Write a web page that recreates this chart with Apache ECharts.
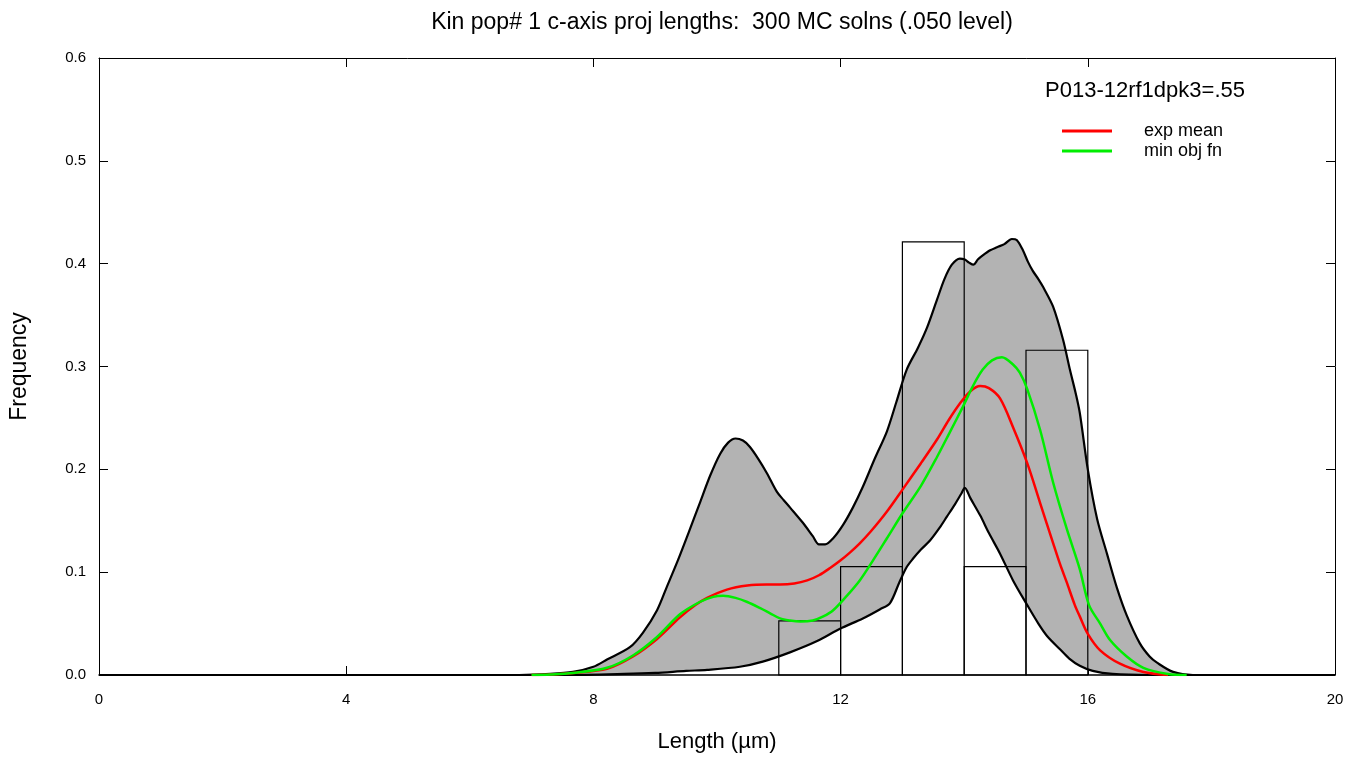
<!DOCTYPE html>
<html>
<head>
<meta charset="utf-8">
<title>Kin pop# 1 c-axis proj lengths</title>
<script src="https://cdn.jsdelivr.net/npm/echarts@6.0.0/dist/echarts.min.js"></script>
<style>
  html, body { margin: 0; padding: 0; background: #fff; }
  #chart { width: 1364px; height: 761px; }
</style>
</head>
<body>
<div id="chart"></div>
<script>
  // histogram of measured lengths (bin edges in um, frequency)
  var binStart = [11, 12, 13, 14, 15];
  var binEnd = [12, 13, 14, 15, 16];
  var binFreq = [0.0526, 0.1053, 0.4211, 0.1053, 0.3158];

  // envelope of the 300 MC solutions
  var upperEnv = [
    [0, 0], [6.8, 0], [7.3, 0.001], [7.67, 0.003], [8.0, 0.008], [8.22, 0.015], [8.59, 0.027],
    [8.8, 0.041], [9.03, 0.063], [9.19, 0.086], [9.37, 0.112], [9.55, 0.14], [9.72, 0.167],
    [9.89, 0.194], [10.05, 0.215], [10.18, 0.226], [10.3, 0.23], [10.42, 0.228], [10.53, 0.222],
    [10.67, 0.21], [10.81, 0.196], [10.97, 0.178], [11.08, 0.17], [11.18, 0.163], [11.39, 0.148],
    [11.55, 0.135], [11.65, 0.127], [11.75, 0.127], [11.88, 0.133], [12.04, 0.146], [12.2, 0.163],
    [12.36, 0.183], [12.55, 0.21], [12.75, 0.237], [12.9, 0.265], [13.07, 0.297], [13.25, 0.318],
    [13.4, 0.338], [13.56, 0.365], [13.68, 0.385], [13.8, 0.399], [13.93, 0.405], [14.01, 0.404],
    [14.08, 0.401], [14.15, 0.399], [14.22, 0.404], [14.3, 0.408], [14.42, 0.413], [14.53, 0.416],
    [14.65, 0.419], [14.77, 0.424], [14.85, 0.423], [14.95, 0.413], [15.03, 0.402], [15.11, 0.393],
    [15.2, 0.385], [15.28, 0.377], [15.44, 0.358], [15.6, 0.326], [15.71, 0.297], [15.8, 0.275],
    [15.87, 0.255], [16.0, 0.2], [16.15, 0.152], [16.31, 0.118], [16.47, 0.085], [16.63, 0.058],
    [16.84, 0.031], [17.0, 0.018], [17.12, 0.012], [17.38, 0.003], [17.7, 0], [20, 0]
  ];
  var lowerEnv = [
    [0, 0], [7.5, 0], [8.5, 0.001], [9.0, 0.002], [9.5, 0.004], [9.84, 0.005], [10.37, 0.008],
    [10.74, 0.013], [11.18, 0.022], [11.62, 0.033], [11.99, 0.045], [12.36, 0.055], [12.64, 0.064],
    [12.8, 0.07], [12.95, 0.09], [13.07, 0.105], [13.17, 0.113], [13.3, 0.122], [13.45, 0.131],
    [13.6, 0.143], [13.72, 0.154], [13.85, 0.166], [13.95, 0.176], [14.01, 0.182], [14.1, 0.172],
    [14.26, 0.155], [14.4, 0.138], [14.58, 0.118], [14.79, 0.092], [15.02, 0.068], [15.2, 0.05],
    [15.34, 0.038], [15.55, 0.025], [15.7, 0.016], [15.87, 0.009], [16.08, 0.004], [16.4, 0.001],
    [17, 0], [20, 0]
  ];

  // exp mean solution
  var expMean = [
    [7.0, 0], [7.3, 0.0005], [7.67, 0.002], [8.22, 0.006], [8.64, 0.018], [9.03, 0.035], [9.4, 0.056],
    [9.65, 0.068], [9.84, 0.075], [10.16, 0.083], [10.49, 0.087], [10.8, 0.088], [11.02, 0.088],
    [11.25, 0.089], [11.46, 0.092], [11.65, 0.097], [11.83, 0.104], [11.99, 0.111], [12.15, 0.119],
    [12.31, 0.128], [12.48, 0.139], [12.75, 0.159], [13.01, 0.181], [13.3, 0.206], [13.56, 0.229],
    [13.75, 0.248], [13.93, 0.264], [14.1, 0.276], [14.26, 0.281], [14.4, 0.279], [14.58, 0.269],
    [14.79, 0.241], [15.02, 0.206], [15.23, 0.167], [15.44, 0.128], [15.55, 0.108], [15.66, 0.09],
    [15.79, 0.068], [15.87, 0.057], [16.0, 0.04], [16.2, 0.024], [16.52, 0.011], [16.9, 0.003],
    [17.3, 0]
  ];
  // min obj fn solution
  var minObj = [
    [7.0, 0], [7.3, 0.0005], [7.67, 0.002], [8.22, 0.007], [8.64, 0.019], [9.03, 0.037], [9.4, 0.059],
    [9.72, 0.071], [9.94, 0.076], [10.1, 0.077], [10.3, 0.075], [10.49, 0.071], [10.7, 0.065],
    [10.86, 0.06], [11.02, 0.055], [11.18, 0.053], [11.35, 0.052], [11.55, 0.053], [11.72, 0.057],
    [11.88, 0.063], [12.1, 0.077], [12.31, 0.092], [12.53, 0.112], [12.75, 0.133], [13.01, 0.158],
    [13.3, 0.184], [13.56, 0.212], [13.75, 0.234], [13.98, 0.261], [14.15, 0.282], [14.3, 0.297],
    [14.45, 0.306], [14.61, 0.309], [14.79, 0.302], [14.9, 0.294], [15.02, 0.278], [15.23, 0.238],
    [15.44, 0.187], [15.66, 0.142], [15.87, 0.103], [16.02, 0.068], [16.2, 0.05], [16.36, 0.034],
    [16.63, 0.018], [16.9, 0.007], [17.3, 0.001], [17.6, 0]
  ];

  var FONT = 'Liberation Sans, Arial, sans-serif';

  var myChart = echarts.init(document.getElementById('chart'));

  var option = {
    animation: false,
    textStyle: { fontFamily: FONT, color: '#000' },
    title: [
      {
        text: 'Kin pop# 1 c-axis proj lengths:  300 MC solns (.050 level)',
        left: 717,
        top: 6,
        textAlign: 'center',
        textStyle: { fontFamily: FONT, fontSize: 23, fontWeight: 'normal', color: '#000' }
      },
      {
        text: 'P013-12rf1dpk3=.55',
        left: 1040,
        top: 75,
        textStyle: { fontFamily: FONT, fontSize: 22, fontWeight: 'normal', color: '#000' }
      }
    ],
    legend: {
      orient: 'vertical',
      left: 1062,
      top: 122,
      padding: 0,
      itemWidth: 50,
      itemHeight: 3,
      itemGap: 2,
      data: [
        { name: 'exp mean', icon: 'rect' },
        { name: 'min obj fn', icon: 'rect' }
      ],
      textStyle: { fontFamily: FONT, fontSize: 18, color: '#000', padding: [0, 0, 0, 27] }
    },
    grid: { left: 99, right: 29, top: 58, bottom: 86 },
    xAxis: [
      {
        type: 'value', min: 0, max: 20, interval: 4,
        name: 'Length (µm)', nameLocation: 'middle', nameGap: 56,
        nameTextStyle: { fontFamily: FONT, fontSize: 22, color: '#000' },
        axisLine: { show: true, lineStyle: { color: '#000', width: 1.5 } },
        axisTick: { show: true, inside: true, length: 9, lineStyle: { color: '#000' } },
        axisLabel: { margin: 17, fontSize: 15, color: '#000' },
        splitLine: { show: false }
      },
      {
        type: 'value', min: 0, max: 20, interval: 4, position: 'top',
        axisLine: { show: true, onZero: false, lineStyle: { color: '#000', width: 1 } },
        axisTick: { show: true, inside: true, length: 9, lineStyle: { color: '#000' } },
        axisLabel: { show: false },
        splitLine: { show: false }
      }
    ],
    yAxis: [
      {
        type: 'value', min: 0, max: 0.6, interval: 0.1,
        name: 'Frequency', nameLocation: 'middle', nameGap: 68, nameRotate: 90,
        nameTextStyle: { fontFamily: FONT, fontSize: 23, color: '#000' },
        axisLine: { show: true, lineStyle: { color: '#000', width: 1 } },
        axisTick: { show: true, inside: true, length: 9, lineStyle: { color: '#000' } },
        axisLabel: {
          margin: 13, fontSize: 15, color: '#000',
          formatter: function (v) { return v.toFixed(1); }
        },
        splitLine: { show: false }
      },
      {
        type: 'value', min: 0, max: 0.6, interval: 0.1, position: 'right',
        axisLine: { show: true, onZero: false, lineStyle: { color: '#000', width: 1 } },
        axisTick: { show: true, inside: true, length: 9, lineStyle: { color: '#000' } },
        axisLabel: { show: false },
        splitLine: { show: false }
      }
    ],
    series: [
      {
        // grey band filled by the MC solutions
        name: 'MC solns',
        type: 'custom',
        z: 1,
        silent: true,
        data: [[0, 0]],
        renderItem: function (params, api) {
          var pts = [];
          upperEnv.forEach(function (p) { pts.push(api.coord(p)); });
          lowerEnv.slice().reverse().forEach(function (p) { pts.push(api.coord(p)); });
          return {
            type: 'polygon',
            shape: { points: pts, smooth: 0.15 },
            style: { fill: '#b3b3b3', stroke: null }
          };
        }
      },
      {
        // histogram bars, outline only
        name: 'measured',
        type: 'custom',
        z: 3,
        silent: true,
        encode: { x: [0, 1], y: 2 },
        data: binStart.map(function (s, i) { return [s, binEnd[i], binFreq[i]]; }),
        renderItem: function (params, api) {
          var p0 = api.coord([api.value(0), 0]);
          var p1 = api.coord([api.value(1), api.value(2)]);
          return {
            type: 'rect',
            shape: { x: p0[0], y: p1[1], width: p1[0] - p0[0], height: p0[1] - p1[1] },
            style: { fill: 'none', stroke: '#000', lineWidth: 1.2 }
          };
        }
      },
      {
        name: 'exp mean', type: 'line', data: expMean, smooth: 0.3, symbol: 'none', z: 5,
        color: '#ff0000',
        lineStyle: { color: '#ff0000', width: 2.5 }
      },
      {
        name: 'min obj fn', type: 'line', data: minObj, smooth: 0.3, symbol: 'none', z: 6,
        color: '#00ee00',
        lineStyle: { color: '#00ee00', width: 2.5 }
      },
      {
        name: 'upper', type: 'line', data: upperEnv, smooth: 0.3, symbol: 'none', z: 4,
        lineStyle: { color: '#000', width: 2.2 }
      },
      {
        name: 'lower', type: 'line', data: lowerEnv, smooth: 0.3, symbol: 'none', z: 4,
        lineStyle: { color: '#000', width: 2.2 }
      }
    ]
  };

  myChart.setOption(option);
</script>
</body>
</html>
